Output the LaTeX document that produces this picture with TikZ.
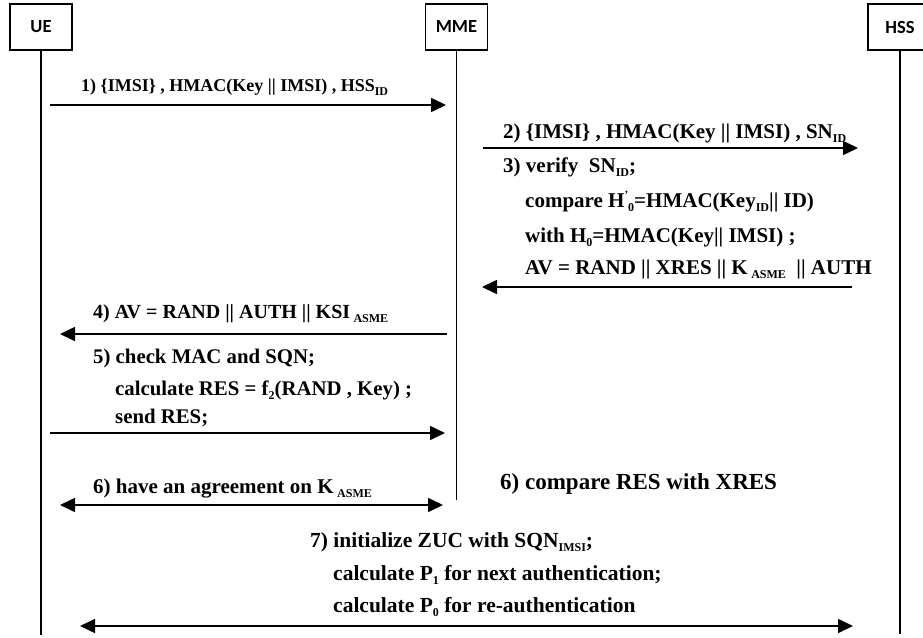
\documentclass[tikz,border=0pt]{standalone}
\usepackage{fontspec}
\setmainfont{Liberation Serif}
\newfontfamily\boxfont{Carlito}
\usetikzlibrary{arrows.meta}

\newcommand{\lowidx}[1]{\raisebox{-4.5pt}{\fontsize{12}{12}\selectfont #1}}
\newcommand{\hprime}{H\raisebox{9pt}{\fontsize{11}{11}\selectfont '}\lowidx{0}}
\newcommand{\txtsize}[1]{\bfseries\fontsize{#1}{#1}\selectfont}

\begin{document}
\begin{tikzpicture}[x=1pt,y=-1pt,
        entity/.style={draw,line width=1.6pt,minimum width=62pt,minimum height=46pt,
            inner sep=0pt,font=\boxfont\bfseries\fontsize{18.5}{18.5}\selectfont},
        life/.style={line width=1.6pt},
        msg/.style={line width=1.6pt,-{Triangle[length=15pt,width=14pt]}},
        both/.style={line width=1.6pt,{Triangle[length=15pt,width=14pt]}-{Triangle[length=15pt,width=14pt]}},
        lbl/.style={anchor=base west,inner sep=0pt,font=\txtsize{21}}]
    \useasboundingbox (0,0) rectangle (923,637);

    % entities and their lifelines
    \node[entity] (ue) at (41,27) {UE};
    \node[entity] (mme) at (456.5,27) {MME};
    \node[entity,minimum width=64pt] (hss) at (900,27) {HSS};
    \coordinate (ueend) at (41,635);
    \coordinate (mmeend) at (456.5,500);
    \coordinate (hssend) at (900,634);
    \draw[life] (ue) -- (ueend);
    \draw[life] (mme) -- (mmeend);
    \draw[life] (hss) -- (hssend);

    % 1) UE -> MME
    \node[lbl,font=\txtsize{18}] (t1) at (81,91) {1) \{IMSI\} , HMAC(Key || IMSI) , HSS\lowidx{ID}};
    \coordinate (a1s) at (50,105);
    \coordinate (a1e) at (446,105);
    \draw[msg] (a1s) -- (a1e);

    % 2) MME -> HSS
    \node[lbl] (t2) at (503,138) {2) \{IMSI\} , HMAC(Key || IMSI) , SN\lowidx{ID}};
    \coordinate (a2s) at (483,148);
    \coordinate (a2e) at (858,148);
    \draw[msg] (a2s) -- (a2e);

    % 3) HSS -> MME
    \node[lbl] (t3a) at (503,172) {3) verify\ \ SN\lowidx{ID};};
    \node[lbl] (t3b) at (525,207) {compare \hprime=HMAC(Key\lowidx{ID}|| ID)};
    \node[lbl] (t3c) at (525,242) {with H\lowidx{0}=HMAC(Key|| IMSI) ;};
    \node[lbl] (t3d) at (525,274) {AV = RAND || XRES || K\,\lowidx{ASME}\ \ || AUTH};
    \coordinate (a3s) at (852,287);
    \coordinate (a3e) at (482,287);
    \draw[msg] (a3s) -- (a3e);

    % 4) MME -> UE
    \node[lbl,font=\txtsize{20}] (t4) at (93,318) {4) AV = RAND || AUTH || KSI\,\lowidx{ASME}};
    \coordinate (a4s) at (447,334);
    \coordinate (a4e) at (60,334);
    \draw[msg] (a4s) -- (a4e);

    % 5) UE -> MME
    \node[lbl,font=\txtsize{20.8}] (t5a) at (93,363) {5) check MAC and SQN;};
    \node[lbl,font=\txtsize{20.8}] (t5b) at (115,395) {calculate RES = f\lowidx{2}(RAND , Key) ;};
    \node[lbl,font=\txtsize{20.8}] (t5c) at (115,423) {send RES;};
    \coordinate (a5s) at (50,433);
    \coordinate (a5e) at (445,433);
    \draw[msg] (a5s) -- (a5e);

    % 6) agreement
    \node[lbl] (t6) at (93,493) {6) have an agreement on K\,\lowidx{ASME}};
    \node[lbl,font=\txtsize{23}] (t6m) at (500,489) {6) compare RES with XRES};
    \coordinate (a6s) at (60,505);
    \coordinate (a6e) at (443,505);
    \draw[both] (a6s) -- (a6e);

    % 7) UE <-> HSS
    \node[lbl,font=\txtsize{21.5}] (t7a) at (310,547) {7) initialize ZUC with SQN\lowidx{IMSI};};
    \node[lbl,font=\txtsize{21.5}] (t7b) at (333,580) {calculate P\lowidx{1}\ for next authentication;};
    \node[lbl,font=\txtsize{21.5}] (t7c) at (333,612) {calculate P\lowidx{0}\ for re-authentication};
    \coordinate (a7s) at (80,626);
    \coordinate (a7e) at (853,626);
    \draw[both] (a7s) -- (a7e);
\end{tikzpicture}
\end{document}
